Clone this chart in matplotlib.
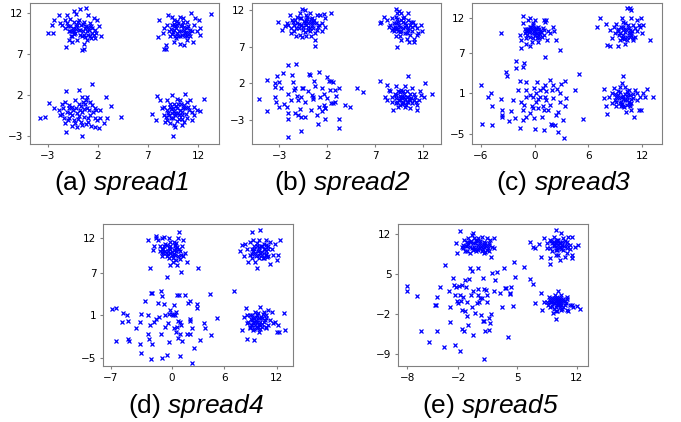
import numpy as np
import matplotlib
matplotlib.use("Agg")
import matplotlib.pyplot as plt

# captions use an Arial-like face; the italic part is mathtext (digits included)
plt.rcParams["mathtext.fontset"] = "custom"
plt.rcParams["mathtext.rm"] = "Liberation Sans:italic"
plt.rcParams["mathtext.it"] = "Liberation Sans:italic"

# point positions, one list per panel (4 clusters each)
spread1 = [
    # top left
    (-3.0, 9.6), (-2.5, 9.6), (-2.6, 10.6), (-2.4, 11.2), (-1.9, 11.8), (-1.3, 11.2), (-1.1, 11.8), (-0.8, 11.3),
    (-0.4, 12.3), (-0.2, 11.9), (0.2, 12.5), (0.8, 12.6), (1.0, 11.8), (1.6, 11.4), (1.9, 11.2), (2.1, 10.5),
    (2.3, 9.2), (1.7, 9.0), (1.3, 9.0), (1.0, 9.4), (0.6, 8.3), (0.4, 7.5), (0.6, 7.7), (-1.2, 7.9), (-0.9, 8.8),
    (-0.6, 9.2), (-0.4, 9.8), (-1.3, 10.2), (-1.6, 10.6), (-0.8, 10.4), (-0.1, 10.6), (0.2, 10.0), (0.7, 10.2),
    (1.1, 10.0), (1.4, 10.2), (1.7, 10.0), (1.2, 10.8), (0.6, 11.0), (0.1, 11.2), (-0.4, 11.0), (-0.9, 9.8),
    (-0.3, 9.6), (0.4, 9.2), (0.9, 8.8), (-0.1, 8.8), (-0.6, 8.5), (-1.8, 10.8), (-1.1, 10.8), (1.8, 9.6),
    (1.4, 9.6), (-0.5, 10.2), (0.1, 10.0), (0.5, 9.8), (-0.2, 10.4), (0.8, 10.5), (-0.8, 9.9), (0.3, 10.6),
    (1.0, 10.3), (-0.4, 9.5), (0.6, 9.4),
    (-1.0, 10.4), (-0.6, 9.9), (-0.2, 10.1), (0.5, 10.7), (0.9, 9.9), (1.3, 10.5), (1.6, 9.4), (0.2, 9.4),
    (-0.7, 9.3), (1.2, 9.2), (0.0, 10.9), (0.7, 9.1),
    # top right
    (8.0, 9.1), (8.6, 7.7), (8.8, 8.1), (8.8, 7.6), (8.1, 11.2), (8.6, 10.2), (8.5, 9.6), (8.9, 10.6), (9.0, 11.8),
    (9.4, 11.6), (9.6, 11.2), (10.2, 11.6), (10.5, 11.4), (10.9, 11.0), (11.3, 12.0), (11.7, 11.4), (12.1, 11.2),
    (12.2, 10.2), (12.2, 9.4), (11.9, 9.8), (11.5, 8.5), (10.9, 9.2), (10.6, 8.1), (10.2, 8.3), (9.6, 8.5),
    (9.7, 9.2), (9.2, 9.2), (9.1, 9.8), (9.6, 10.0), (10.1, 9.8), (10.6, 10.0), (10.9, 10.2), (11.2, 10.0),
    (10.4, 10.6), (9.9, 10.6), (9.4, 10.6), (13.3, 11.9), (11.6, 10.6), (10.7, 9.6), (10.2, 9.2), (11.1, 9.6),
    (9.9, 9.6), (11.2, 9.2), (9.8, 10.2), (10.3, 9.9), (10.6, 10.3), (9.5, 9.7), (10.0, 10.8), (10.8, 9.7),
    (9.7, 10.4), (10.4, 9.4),
    (9.3, 10.1), (9.8, 9.0), (10.5, 10.9), (11.0, 10.5), (10.0, 9.3), (10.7, 9.2), (9.4, 9.5), (11.4, 9.8),
    (10.3, 10.4), (9.9, 11.1), (10.9, 8.8), (9.6, 10.7),
    # bottom left
    (-3.8, -0.8), (-3.3, -0.6), (-2.9, 1.1), (-2.4, 0.4), (-1.8, -0.4), (-1.6, 1.0), (-1.3, 1.2), (-1.2, 2.5),
    (0.1, 2.6), (0.4, 1.8), (0.9, 1.8), (1.4, 3.4), (1.2, 1.2), (1.7, 0.4), (2.2, 0.2), (2.8, 1.8), (3.3, 0.7),
    (2.9, -0.8), (2.6, -1.4), (2.1, -2.0), (1.7, -1.8), (1.3, -1.7), (1.0, -1.2), (0.4, -1.6), (0.4, -3.0),
    (-0.1, -1.8), (-0.6, -1.7), (-1.2, -2.5), (-1.3, -1.4), (-1.4, -0.8), (-1.1, 0.0), (-0.6, 0.6), (-0.3, 1.4),
    (0.1, 1.0), (0.7, 1.0), (1.1, 0.2), (0.4, 0.0), (-0.1, -0.2), (-0.6, -0.4), (-0.9, 0.8), (0.6, -0.6),
    (1.2, -0.4), (1.7, -0.8), (2.2, -0.8), (0.8, 1.4), (0.2, 0.2), (-0.4, -1.0), (-1.9, 0.2), (-0.9, -0.8),
    (4.3, -0.6), (1.9, -1.0), (-0.2, 0.5), (0.6, 0.3), (-0.8, -0.2), (1.0, -0.8), (0.0, -0.9), (-1.5, 0.5),
    (1.5, 0.0), (0.3, -1.2),
    (-0.5, 0.2), (0.3, 0.7), (0.9, 0.5), (-1.0, -1.0), (0.1, -0.5), (0.8, -1.5), (1.4, 0.8), (-0.3, -1.4),
    (-1.6, -0.3), (1.8, 0.2), (0.5, 1.2), (-0.9, 0.4),
    # bottom right
    (7.4, -0.3), (7.8, -1.0), (7.9, 1.9), (8.2, 1.4), (8.4, 0.4), (8.6, -0.4), (8.7, -1.2), (8.9, 1.4), (9.4, 2.1),
    (9.9, 1.6), (10.2, 1.4), (10.7, 2.2), (10.9, 1.2), (11.2, 1.4), (11.6, 0.6), (11.9, 0.2), (12.2, 0.1),
    (12.6, 1.6), (11.6, -0.4), (11.4, -1.0), (10.9, -0.8), (10.6, -1.2), (10.4, -1.6), (9.7, -1.9), (9.6, -1.6),
    (9.5, -3.0), (9.2, -1.4), (8.9, -1.0), (8.9, 0.2), (9.2, 0.6), (9.6, 1.0), (9.9, 0.4), (10.2, 0.2), (10.7, 0.4),
    (11.1, 0.2), (9.7, -0.4), (9.4, -0.2), (10.1, -0.4), (10.4, -0.4), (9.1, -0.4), (8.6, 0.6), (10.6, 0.8),
    (11.4, 0.0), (9.6, 0.1), (10.0, -0.1), (9.3, 0.3), (10.4, 0.0), (9.8, 0.7), (9.5, -0.8), (10.1, -0.9), (9.0, -0.1),
    (9.3, -0.7), (9.9, -1.1), (10.5, 0.5), (10.8, -0.3), (9.2, 0.9), (10.0, 0.9), (10.4, -0.9), (11.0, 0.6),
    (8.8, -0.6), (9.7, -0.2), (10.3, 1.0), (9.5, 0.5),
]

spread2 = [
    (-3.1, 10.3), (-2.7, 9.3), (-2.4, 9.8), (-1.9, 11.3), (-1.7, 10.6), (-2.1, 10.0), (-1.8, 8.8), (-1.5, 9.1),
    (-1.3, 8.4), (-1.2, 11.1), (-0.9, 11.6), (-0.6, 12.2), (-0.3, 12.0), (-0.2, 11.3), (0.2, 11.6), (0.4, 10.9),
    (0.9, 11.3), (1.2, 11.3), (1.6, 11.5), (2.4, 11.6), (1.8, 10.9), (1.4, 10.2), (1.8, 9.7), (1.1, 10.0),
    (0.7, 8.8), (0.7, 7.9), (0.7, 7.1), (0.3, 8.4), (-0.2, 8.5), (-0.6, 8.3), (-0.9, 8.6), (-1.0, 9.5), (-0.7, 10.0),
    (-0.3, 10.2), (0.0, 9.7), (0.4, 10.0), (0.5, 10.4), (-0.2, 10.6), (-0.7, 10.9), (-1.2, 10.2), (-1.5, 10.0),
    (-1.4, 10.6), (0.0, 9.3), (-0.5, 9.3), (0.9, 9.3), (1.4, 9.2), (-2.2, 10.2), (-1.8, 9.5), (-0.4, 10.5),
    (0.0, 10.2), (-0.2, 9.9), (0.3, 10.4), (-0.7, 10.0), (0.5, 9.6), (-0.1, 10.8), (0.2, 9.5),
    (-1.0, 10.1), (-0.5, 9.7), (0.3, 10.8), (0.8, 10.2), (-0.3, 9.0), (-1.3, 9.6), (0.2, 9.1), (-0.9, 10.9),
    (1.0, 9.7), (-0.1, 11.1), (-1.6, 10.4), (0.6, 10.6),
    (7.5, 10.2), (7.6, 10.4), (7.9, 11.1), (8.2, 10.6), (8.4, 9.7), (8.5, 10.0), (8.7, 9.3), (9.1, 12.2), (9.1, 11.1),
    (9.3, 11.6), (9.5, 11.8), (9.7, 11.6), (9.9, 10.9), (10.4, 11.6), (10.4, 10.6), (10.7, 10.4), (11.1, 10.0),
    (11.3, 9.5), (11.8, 10.0), (11.9, 9.1), (11.4, 8.8), (11.0, 8.1), (11.0, 7.7), (10.5, 7.7), (10.3, 8.1),
    (9.7, 7.9), (9.6, 8.5), (9.3, 6.9), (9.1, 8.4), (8.9, 9.1), (9.2, 9.5), (9.6, 9.7), (10.1, 9.7), (10.4, 9.3),
    (10.8, 9.1), (10.3, 8.8), (9.7, 9.1), (9.4, 10.4), (8.9, 10.2), (10.1, 10.2), (10.8, 9.7), (11.3, 8.6),
    (8.7, 10.9), (9.5, 10.0), (9.9, 9.5), (9.2, 10.2), (10.2, 9.9), (9.7, 10.6), (9.4, 9.2),
    (9.0, 9.7), (9.3, 10.8), (10.0, 11.0), (10.6, 9.9), (10.1, 8.9), (9.6, 9.0), (10.9, 10.4), (8.8, 9.6),
    (9.9, 10.4), (10.4, 9.5), (9.3, 9.4), (10.6, 8.6),
    (-5.1, -0.1), (-4.3, 2.5), (-4.3, -1.8), (-3.5, 2.0), (-3.5, 1.5), (-3.2, 3.0), (-3.0, 2.2), (-2.1, 4.5),
    (-1.3, 4.7), (-2.6, 3.4), (-1.7, 3.1), (0.1, 3.3), (0.2, 3.1), (1.1, 3.6), (2.0, 2.9), (2.2, 2.3), (2.4, 2.3),
    (-3.5, 0.2), (-3.3, -0.5), (-2.8, 1.3), (-2.1, 0.6), (-1.5, 1.1), (-1.4, 1.3), (-1.1, -0.3), (-0.7, 0.2),
    (-0.6, 1.3), (-0.5, 1.3), (0.4, 0.4), (0.5, 0.2), (0.7, 1.6), (1.4, 1.3), (1.6, 0.6), (2.3, 1.1), (2.8, 1.1),
    (3.2, 1.3), (-2.2, -1.2), (-2.1, -2.1), (-2.1, -2.9), (-1.4, -2.1), (-1.1, -2.3), (-0.7, -2.6), (-0.3, -2.6),
    (1.1, -1.2), (1.6, -1.0), (1.8, -1.3), (1.8, -1.4), (2.4, -0.7), (2.6, -0.7), (2.8, -0.6), (0.9, -2.3),
    (1.8, -2.9), (1.0, -3.5), (3.2, -2.8), (3.2, -4.1), (3.8, -1.0), (4.4, -1.2), (5.1, 1.3), (5.7, 0.8),
    (-0.7, -4.5), (-2.1, -5.3), (2.6, 2.2), (-1.8, -0.3), (-0.3, -0.6), (0.5, -0.2), (-1.2, 0.3), (1.2, 0.2),
    (0.0, 1.0), (-2.5, -0.8), (2.0, 0.0), (-0.9, -1.5), (0.3, -1.6), (1.4, -1.8), (-1.6, 2.2), (0.6, 2.3),
    (-3.0, -1.2), (2.9, 0.3),
    (7.5, 2.3), (8.2, 1.8), (8.4, 1.1), (8.0, 0.2), (8.2, -0.3), (8.5, 0.9), (8.7, 0.2), (8.8, -1.6), (9.1, -0.7),
    (9.2, 1.6), (9.4, 0.9), (9.6, -0.3), (9.7, 0.2), (9.9, -0.7), (10.1, 1.6), (10.3, 0.9), (10.4, 3.0), (10.4, 0.2),
    (10.6, -0.3), (10.8, -0.7), (11.0, 0.6), (11.1, 0.2), (11.3, -1.6), (11.5, -0.3), (11.7, 0.9), (11.8, 0.4),
    (12.2, 2.0), (12.1, 0.2), (12.9, 0.6), (9.4, -1.2), (10.1, -1.2), (10.6, -1.4), (9.1, 0.4), (9.7, 1.1),
    (10.8, 1.3), (8.7, -0.5), (9.6, -1.0), (10.3, -0.5), (11.0, -0.3), (11.3, -1.0), (9.8, 0.0), (10.1, -0.2),
    (9.6, 0.3), (10.3, 0.2), (9.9, -0.5), (10.0, 0.5), (9.5, -0.3), (10.5, -0.1),
    (9.3, -0.5), (9.6, 0.8), (10.2, -0.9), (10.6, 0.6), (9.2, 0.0), (10.7, 0.0), (9.9, 0.9), (10.4, -0.5),
    (9.8, -0.8), (9.0, 0.6), (11.2, -0.6), (10.0, 0.2),
]

spread3 = [
    (-3.7, 9.8), (-1.6, 9.6), (-1.3, 12.3), (-1.5, 8.8), (-1.5, 7.6), (-1.1, 10.5), (-0.9, 9.2), (-0.7, 11.8),
    (-0.5, 12.0), (-0.5, 7.9), (-0.3, 8.6), (-0.2, 11.3), (0.0, 11.8), (0.2, 10.5), (0.4, 9.6), (0.6, 10.1),
    (0.8, 9.3), (1.0, 11.8), (1.2, 11.5), (1.3, 11.8), (1.4, 8.8), (1.2, 6.4), (2.1, 10.8), (2.2, 10.1), (2.4, 8.9),
    (2.8, 7.3), (-0.7, 10.1), (-0.3, 9.8), (0.0, 9.8), (0.4, 10.8), (-0.5, 10.8), (-1.1, 9.8), (-0.2, 9.1),
    (0.4, 8.6), (-0.9, 8.3), (1.0, 10.3), (1.5, 10.1), (-1.3, 11.3), (1.7, 9.8), (-0.3, 10.3), (0.1, 10.2),
    (-0.6, 10.0), (0.3, 9.9), (-0.1, 10.6), (0.5, 10.4), (-0.8, 10.5), (0.0, 9.5), (0.6, 9.7),
    (-0.8, 9.6), (-0.4, 10.7), (0.2, 10.6), (0.7, 10.0), (-0.5, 9.3), (0.3, 9.2), (-1.0, 10.2), (0.9, 10.6),
    (-0.2, 11.0), (0.5, 9.1), (-0.6, 10.4), (1.1, 9.5),
    (7.0, 10.8), (7.3, 12.0), (8.0, 11.2), (8.1, 8.1), (8.4, 10.3), (8.4, 7.9), (8.6, 9.1), (8.9, 10.8), (9.1, 11.2),
    (9.3, 7.9), (9.5, 9.8), (9.7, 12.0), (9.9, 9.1), (10.1, 11.3), (10.3, 13.5), (10.6, 13.5), (10.8, 13.2),
    (10.8, 12.0), (11.0, 11.0), (11.2, 9.3), (11.4, 10.1), (11.6, 11.0), (11.8, 10.8), (11.9, 12.0), (12.1, 11.0),
    (12.0, 9.8), (12.9, 8.9), (10.3, 8.8), (10.5, 9.8), (10.6, 10.3), (9.9, 10.3), (9.3, 10.1), (11.0, 8.8),
    (10.1, 8.3), (9.5, 8.8), (11.4, 11.8), (9.0, 9.8), (10.8, 9.6), (10.1, 10.0), (10.5, 10.6), (9.8, 9.5),
    (10.9, 10.2), (10.3, 9.3), (9.6, 10.7),
    (9.4, 9.6), (9.8, 10.8), (10.4, 11.0), (10.8, 9.8), (10.0, 9.0), (10.6, 9.3), (9.3, 10.4), (11.2, 10.6),
    (9.7, 9.2), (10.2, 10.4), (11.0, 9.1), (9.9, 11.5),
    (-6.0, 2.2), (-5.9, -3.4), (-5.2, 0.5), (-4.9, 1.0), (-4.7, -0.9), (-4.7, -3.6), (-3.7, 0.2), (-3.6, -1.4),
    (-3.6, -2.2), (-3.6, -2.5), (-3.2, 4.2), (-3.1, 3.5), (-2.8, -3.1), (-2.6, -1.5), (-2.1, 5.7), (-2.1, 4.7),
    (-2.2, -2.6), (-1.8, 1.5), (-1.6, 2.9), (-1.6, -4.1), (-1.3, -2.9), (-1.2, 5.4), (-1.3, 4.9), (-1.2, -0.7),
    (-0.9, 2.7), (-0.9, 1.5), (-0.9, 0.5), (-1.0, -2.5), (-0.5, 0.8), (-0.3, -0.8), (-0.2, -1.2), (-0.2, 0.5),
    (-0.1, 1.8), (-0.1, -2.6), (0.0, -4.2), (0.2, -0.3), (0.2, 1.0), (0.3, 2.7), (0.4, 0.2), (0.6, 1.5), (0.6, 0.5),
    (0.8, -2.4), (0.9, 1.8), (0.9, -0.8), (1.0, -4.4), (1.0, -1.4), (1.2, 2.2), (1.3, 0.1), (1.3, 1.3), (1.5, -1.4),
    (1.7, 3.0), (1.8, -3.4), (1.9, 1.5), (1.9, -3.6), (2.1, 2.2), (2.1, 0.4), (2.3, -3.6), (2.4, -2.2), (2.5, 1.6),
    (2.6, -4.6), (2.8, -0.2), (2.8, 1.0), (3.0, 2.4), (3.2, -2.9), (3.4, -0.9), (3.4, 2.9), (3.5, 0.4), (3.3, -5.5),
    (4.5, 1.5), (5.0, 3.9), (5.4, -2.8), (-0.5, -1.9), (0.4, -1.2), (1.7, -0.7), (-1.3, -1.4), (-2.4, 0.1),
    (-1.5, -0.2), (2.6, -1.7), (1.2, 0.5),
    (7.7, 1.6), (7.7, 0.3), (8.0, -0.9), (8.1, -2.0), (8.3, 0.5), (8.6, 1.0), (8.8, 1.8), (9.0, 0.1), (9.1, 0.5),
    (9.3, 1.3), (9.5, 1.9), (9.7, 2.5), (9.9, 3.5), (10.1, 2.0), (10.1, 0.1), (10.2, -1.7), (10.5, 1.5), (10.6, 0.8),
    (10.8, -0.4), (11.0, 0.3), (11.1, -2.4), (11.2, 1.5), (11.4, 1.0), (11.6, -1.4), (11.8, 0.5), (11.9, -1.4),
    (12.1, 1.0), (12.3, 0.5), (12.5, 1.6), (13.2, 0.5), (9.1, -0.9), (9.5, -0.4), (9.9, -0.9), (10.3, -0.7),
    (10.6, -0.9), (9.7, 0.5), (10.3, 0.5), (9.1, -0.2), (8.6, -0.4), (10.8, -1.4), (11.4, 0.1), (9.9, 0.2),
    (10.3, 0.0), (9.6, -0.3), (10.1, 0.9), (10.5, -0.2), (9.4, 0.3),
    (9.3, 0.8), (9.7, -0.6), (10.4, 0.9), (10.8, 0.2), (9.5, 1.2), (10.0, -1.0), (10.6, -0.6), (9.0, 0.9),
    (9.9, 0.6), (11.0, 0.9), (10.3, 1.3), (9.6, -0.9),
]

spread4 = [
    (-2.7, 11.7), (-2.5, 7.8), (-2.2, 10.3), (-2.1, 10.8), (-1.8, 12.3), (-1.8, 12.0), (-1.6, 11.7), (-1.4, 10.1),
    (-1.2, 10.5), (-1.2, 9.4), (-1.1, 12.0), (-0.9, 12.2), (-0.6, 6.4), (-0.5, 9.7), (-0.3, 12.0), (-0.2, 11.5),
    (-0.2, 8.2), (0.1, 8.6), (0.2, 11.5), (0.3, 11.0), (0.5, 8.9), (0.6, 8.2), (0.7, 12.0), (0.8, 12.8), (0.9, 10.1),
    (1.0, 7.2), (1.1, 10.8), (1.2, 11.7), (1.3, 9.4), (1.5, 9.8), (1.7, 8.6), (-1.0, 10.5), (-0.8, 10.1),
    (-0.6, 11.0), (-0.2, 10.5), (0.2, 10.3), (0.5, 10.1), (-0.4, 9.1), (0.7, 9.4), (-0.8, 11.2), (0.3, 9.6),
    (0.0, 9.6), (3.0, 7.7), (-0.5, 10.2), (0.0, 10.0), (-0.7, 9.8), (0.4, 10.4), (-0.2, 10.9), (0.6, 10.7),
    (-1.0, 9.9), (0.2, 9.7),
    (-1.2, 10.0), (-0.9, 10.8), (-0.4, 10.6), (0.3, 10.8), (0.8, 10.4), (1.0, 9.6), (-0.6, 9.4), (0.1, 9.1),
    (-1.4, 10.8), (0.5, 11.3), (-0.2, 9.9), (0.9, 9.0),
    (7.8, 10.1), (8.0, 11.0), (8.2, 9.4), (8.4, 11.2), (8.6, 10.5), (8.7, 8.6), (8.9, 11.5), (8.9, 9.6), (9.1, 12.8),
    (9.3, 11.7), (9.4, 10.5), (9.5, 8.6), (9.7, 7.8), (9.9, 11.7), (10.1, 13.1), (10.1, 9.8), (10.3, 10.8),
    (10.5, 9.1), (10.7, 11.7), (10.8, 11.0), (10.8, 9.6), (11.0, 10.5), (11.2, 8.3), (11.2, 11.5), (11.4, 10.5),
    (11.5, 9.6), (11.8, 11.2), (12.0, 8.9), (12.1, 9.6), (12.4, 11.7), (9.3, 10.1), (9.7, 10.8), (9.9, 9.1),
    (10.3, 9.6), (10.7, 10.1), (9.1, 9.1), (10.5, 10.5), (11.0, 9.4), (9.8, 10.2), (10.3, 10.0), (9.5, 9.9),
    (10.6, 10.4), (10.0, 9.6), (9.9, 10.7),
    (9.2, 10.5), (9.6, 9.4), (10.2, 10.9), (10.7, 9.7), (10.4, 9.2), (9.4, 10.8), (11.0, 10.8), (10.0, 10.3),
    (9.7, 11.3), (10.9, 9.3), (9.1, 9.7), (10.5, 11.1),
    (-6.9, 1.9), (-6.4, 2.1), (-6.4, -2.7), (-5.7, 0.0), (-5.6, 1.4), (-5.2, 1.1), (-5.0, 0.2), (-5.0, -2.3),
    (-4.9, -2.6), (-4.1, -0.8), (-3.7, 0.0), (-3.7, -3.1), (-3.5, 1.2), (-3.5, -4.3), (-3.1, 3.0), (-2.8, 1.1),
    (-2.7, -1.6), (-2.6, -2.3), (-2.4, 4.2), (-2.3, 4.2), (-2.3, -3.0), (-2.1, 0.1), (-1.8, 0.5), (-1.6, 2.7),
    (-1.5, 0.8), (-1.3, 4.4), (-1.3, -1.6), (-1.1, 3.7), (-1.1, -5.0), (-0.9, 2.6), (-0.8, -0.6), (-0.6, -4.6),
    (-0.5, -0.1), (-0.4, -2.8), (-0.3, 1.2), (-0.2, 1.8), (0.0, 1.2), (0.1, 1.1), (0.2, -0.8), (0.2, 2.5), (0.3, 1.1),
    (0.5, 1.5), (0.6, 3.9), (0.6, -0.6), (0.7, 0.2), (0.7, -2.2), (0.8, 3.9), (0.9, 0.1), (0.9, -1.6), (1.0, -0.4),
    (1.1, -2.6), (0.9, -4.7), (1.5, 3.9), (1.8, 2.7), (2.0, 0.2), (2.1, 0.5), (2.1, 3.0), (2.1, -1.7), (2.3, -0.8),
    (2.3, -5.7), (2.5, -3.6), (2.8, 2.6), (2.9, 2.1), (3.2, -2.5), (3.7, -0.1), (3.8, -0.8), (4.3, 4.1), (4.5, -1.8),
    (5.1, 0.7), (7.1, 4.5), (-2.4, -5.2), (-0.8, 1.1), (-2.5, -0.4), (1.7, -1.6), (0.5, -1.3),
    (8.0, -1.1), (8.2, 0.8), (8.5, 2.0), (8.6, -0.1), (8.6, -2.3), (8.9, -0.6), (8.9, 1.1), (9.1, 0.3), (9.3, -1.1),
    (9.4, -2.5), (9.5, 1.5), (9.7, 1.1), (9.9, -0.4), (9.9, -1.4), (10.1, 2.2), (10.3, 0.6), (10.5, 1.5),
    (10.7, -0.6), (10.8, -0.8), (10.8, 1.1), (11.0, 1.8), (11.2, 0.3), (11.4, 1.5), (11.5, -0.1), (11.8, 0.1),
    (12.0, -1.3), (12.1, -0.4), (12.2, -1.3), (12.8, 1.4), (12.9, -1.1), (8.6, 1.1), (8.9, -0.8), (9.3, 0.1),
    (9.7, 0.1), (10.1, 0.1), (10.5, 0.1), (9.7, -0.8), (10.3, -0.6), (9.1, 1.1), (8.7, 0.1), (9.6, 0.4),
    (10.0, -0.2), (9.3, 0.6), (10.2, 0.8), (9.8, -0.6), (9.5, -0.3), (10.6, 0.4), (9.0, -0.3),
    (9.2, -0.3), (9.6, 0.8), (10.3, -0.2), (10.7, 0.7), (9.4, -0.9), (10.1, -1.0), (10.4, 1.2), (9.0, 0.5),
    (9.8, 1.3), (11.0, -0.3), (10.0, 0.6), (9.5, 0.1),
]

spread5 = [
    (-2.2, 10.4), (-2.1, 8.7), (-1.8, 12.6), (-1.6, 9.8), (-1.4, 9.6), (-1.3, 11.0), (-1.1, 10.0), (-1.0, 9.1),
    (-0.8, 10.4), (-0.6, 8.7), (-0.4, 11.9), (-0.2, 12.2), (-0.1, 9.8), (0.1, 9.0), (0.2, 11.0), (0.4, 9.6),
    (0.6, 10.4), (0.8, 9.0), (1.0, 10.7), (1.1, 9.8), (1.2, 8.9), (1.4, 11.3), (1.6, 10.1), (1.8, 11.0), (1.9, 8.1),
    (2.0, 9.8), (2.2, 11.3), (2.2, 9.6), (-0.6, 10.7), (0.0, 10.4), (0.8, 11.6), (1.4, 9.3), (-1.2, 9.0),
    (-0.4, 9.6), (0.4, 11.3), (1.0, 8.7), (-0.8, 11.3), (0.6, 9.6), (1.6, 9.0), (0.3, 10.2), (-0.3, 10.5),
    (0.7, 9.9), (-0.6, 9.8), (1.2, 10.4), (0.0, 9.5), (-1.0, 10.6), (1.5, 9.6),
    (-0.9, 9.9), (-0.5, 10.9), (0.1, 10.8), (0.6, 10.8), (1.0, 10.1), (1.3, 9.9), (-0.2, 9.2), (0.4, 9.3),
    (-1.4, 10.2), (1.7, 10.4), (-0.1, 11.4), (0.9, 9.5),
    (6.5, 10.6), (6.8, 9.8), (7.1, 9.6), (7.5, 10.3), (7.8, 8.1), (8.1, 11.3), (8.5, 10.4), (8.5, 9.6), (8.8, 11.0),
    (8.9, 7.9), (8.9, 6.8), (9.1, 9.0), (9.3, 11.6), (9.3, 10.1), (9.5, 9.3), (9.6, 12.8), (9.7, 11.0), (9.8, 8.4),
    (10.0, 7.5), (10.1, 12.2), (10.2, 9.8), (10.4, 11.3), (10.6, 8.1), (10.8, 8.7), (10.8, 9.6), (11.0, 11.6),
    (11.2, 10.1), (11.4, 11.6), (11.4, 8.4), (11.5, 7.8), (11.8, 9.8), (12.2, 10.1), (9.3, 10.7), (9.7, 9.6),
    (10.0, 10.4), (8.9, 9.6), (10.4, 9.3), (9.8, 10.1), (9.5, 8.4), (9.6, 10.4), (10.0, 9.7), (9.3, 9.9),
    (10.3, 10.6), (9.8, 11.0), (9.1, 10.4),
    (9.4, 10.1), (9.7, 9.2), (10.3, 10.2), (10.6, 10.8), (10.2, 9.4), (9.0, 10.9), (10.9, 10.6), (10.5, 9.9),
    (9.6, 10.9), (11.2, 9.4), (9.9, 10.5), (10.8, 10.2),
    (7.1, -0.1), (7.8, 1.7), (7.9, -1.2), (8.1, 0.1), (8.5, 0.1), (8.7, 1.1), (8.8, 0.1), (8.9, -0.7), (9.1, 0.8),
    (9.2, -1.8), (9.3, -0.1), (9.3, -1.0), (9.5, 0.5), (9.6, -2.8), (9.7, 1.1), (9.7, -1.5), (9.8, 2.0), (10.0, 0.1),
    (10.0, -0.7), (10.2, 1.4), (10.4, 0.3), (10.6, -0.4), (10.8, -1.2), (10.8, 1.1), (11.0, -1.5), (11.2, -0.4),
    (11.4, -0.3), (11.6, -0.7), (12.0, -0.5), (12.4, -1.0), (8.9, 0.5), (9.3, 0.8), (9.7, -0.4), (10.0, 0.5),
    (10.4, -0.7), (9.3, -0.1), (9.8, -0.1), (9.5, -1.5), (10.2, -1.2), (9.5, 0.2), (9.9, -0.3), (10.2, 0.0),
    (9.0, 0.2), (10.6, 0.3), (9.7, 0.6),
    (9.2, 0.4), (9.6, -0.7), (10.0, 0.9), (10.4, 0.6), (10.1, -0.4), (9.1, -0.5), (10.7, -0.1), (9.4, 1.3),
    (10.9, 0.6), (9.8, 0.3), (10.3, -1.0), (8.6, -0.3),
    (-8.0, 3.0), (-8.0, 2.0), (-6.9, 1.2), (-6.4, -4.9), (-5.4, -6.8), (-4.7, -0.3), (-4.6, -0.3), (-4.5, 1.0),
    (-4.5, -4.9), (-4.1, 2.8), (-3.7, -7.7), (-3.5, 6.6), (-3.1, 2.1), (-3.0, -0.7), (-2.9, -3.3), (-2.6, 4.4),
    (-2.5, 3.1), (-2.4, -7.4), (-2.4, 1.4), (-2.2, 2.7), (-2.1, 0.3), (-2.0, -0.1), (-1.9, 3.0), (-1.8, -8.5),
    (-1.8, 1.4), (-1.7, 0.3), (-1.6, 3.1), (-1.5, -4.6), (-1.4, 1.1), (-1.3, -5.0), (-1.2, 4.0), (-1.1, 2.8),
    (-1.0, 0.1), (-0.9, -2.3), (-0.8, -3.9), (-0.7, 4.2), (-0.6, 6.1), (-0.5, 1.4), (-0.4, 5.5), (-0.3, 2.0),
    (-0.2, -5.6), (0.0, -1.8), (0.2, -0.1), (0.3, 6.1), (0.4, 2.4), (0.5, 0.1), (0.6, 0.8), (0.7, -2.1), (0.8, 0.8),
    (0.9, 4.3), (0.9, -3.2), (1.0, -3.1), (1.0, -9.8), (1.1, 2.4), (1.2, -4.9), (1.3, 2.3), (1.4, 0.1), (1.6, -2.7),
    (1.7, -4.7), (1.8, -3.6), (1.9, -2.0), (2.0, 5.2), (2.2, 2.0), (2.4, 4.0), (2.6, 5.4), (2.9, 1.7), (3.2, -0.7),
    (3.4, 6.1), (3.5, 2.6), (3.7, 2.6), (3.9, -5.9), (4.1, 1.6), (4.1, 1.7), (4.2, 2.8), (4.5, -0.5), (4.6, 7.2),
    (4.7, 4.6), (5.8, 6.3), (6.5, 4.1), (6.8, 3.3), (0.4, 1.4), (-0.4, -0.7), (-1.2, -1.5), (1.4, 1.4), (-1.6, -1.2),
]

labels = ["(a)", "(b)", "(c)", "(d)", "(e)"]
names = ["spread1", "spread2", "spread3", "spread4", "spread5"]
xticks = [[-3, 2, 7, 12], [-3, 2, 7, 12], [-6, 0, 6, 12], [-7, 0, 6, 12], [-8, -2, 5, 12]]
yticks = [[-3, 2, 7, 12], [-3, 2, 7, 12], [-5, 1, 7, 12], [-5, 1, 7, 12], [-9, -2, 5, 12]]

# layout (axes rect in figure fractions, limits)
rects = [[0.0441, 0.6588, 0.2775, 0.3348],
         [0.3696, 0.6588, 0.2780, 0.3348],
         [0.6931, 0.6588, 0.2790, 0.3348],
         [0.1517, 0.1334, 0.2790, 0.3350],
         [0.5849, 0.1334, 0.2786, 0.3350]]
xlims = [(-4.77, 14.1), (-5.88, 13.84), (-6.97, 14.2), (-7.87, 13.88), (-9.06, 13.34)]
ylims = [(-3.93, 13.3), (-6.27, 13.0), (-6.4, 14.3), (-6.15, 13.94), (-11.0, 13.75)]
caption_pos = [(0.178, 0.567), (0.502, 0.567), (0.828, 0.567), (0.288, 0.039), (0.7195, 0.039)]

fig = plt.figure(figsize=(6.81, 4.22), dpi=100)

for i, pts in enumerate([spread1, spread2, spread3, spread4, spread5]):
    pts = np.array(pts)
    ax = fig.add_axes(rects[i])
    ax.plot(pts[:, 0], pts[:, 1], "x", color="blue", ms=3.3, mew=0.9)
    ax.set_xlim(*xlims[i])
    ax.set_ylim(*ylims[i])
    ax.set_xticks(xticks[i])
    ax.set_yticks(yticks[i])
    ax.tick_params(labelsize=7.5, length=2.5, width=0.8, color="0.5", pad=2.5)
    for s in ax.spines.values():
        s.set_color("0.5")
        s.set_linewidth(0.8)
    cx, cy = caption_pos[i]
    fig.text(cx, cy, labels[i] + r" $\mathit{" + names[i] + "}$", ha="center", va="center",
             fontsize=19, family="Liberation Sans")

fig.savefig("out.png", dpi=100)
